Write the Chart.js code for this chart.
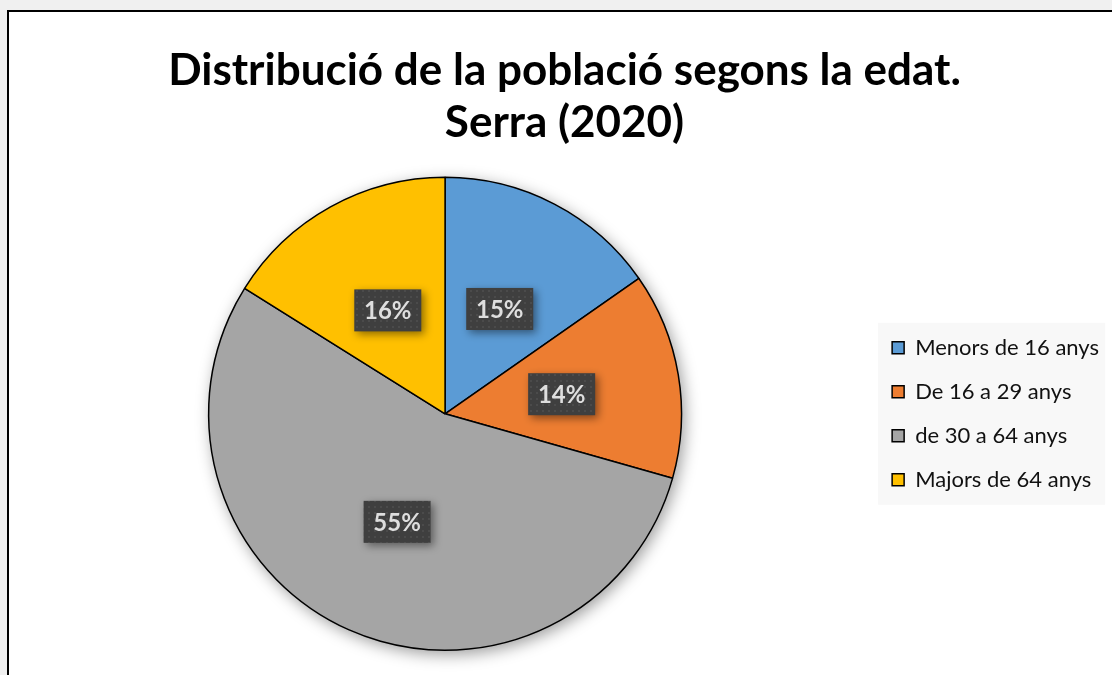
<!DOCTYPE html>
<html>
<head>
<meta charset="utf-8">
<script src="https://cdn.jsdelivr.net/npm/chart.js@4"></script>
<style>
  body { margin: 0; background: #f0f0f0; overflow: hidden; }
  #frame { position: absolute; left: 7px; top: 10px; width: 1200px; height: 800px;
           border-left: 2px solid #000; border-top: 2px solid #000; background: #fff; }
  #wrap { position: absolute; left: 0; top: 0; width: 1112px; height: 675px; }
</style>
</head>
<body>
<div id="frame"></div>
<div id="wrap"><canvas id="pie-chart"></canvas></div>
<script>
const labels = ['Menors de 16 anys', 'De 16 a 29 anys', 'de 30 a 64 anys', 'Majors de 64 anys'];
const values = [15.3, 14.1, 54.5, 16.1];
const pctLabels = ['15%', '14%', '55%', '16%'];
const colors = ['#5b9bd5', '#ed7d31', '#a5a5a5', '#ffc000'];

const fontFamily = 'Lato, "Open Sans", sans-serif';

// dotted dark fill for the value boxes
function makePattern(ctx) {
  const c = document.createElement('canvas');
  c.width = 6; c.height = 6;
  const p = c.getContext('2d');
  p.fillStyle = '#3f3f3f';
  p.fillRect(0, 0, 6, 6);
  p.fillStyle = '#4b4b4b';
  p.fillRect(2, 2, 2, 2);
  return ctx.createPattern(c, 'repeat');
}

const pieShadow = {
  id: 'pieShadow',
  beforeDatasetsDraw(chart) {
    const arc = chart.getDatasetMeta(0).data[0];
    if (!arc) return;
    const ctx = chart.ctx;
    ctx.save();
    ctx.shadowColor = 'rgba(0,0,0,0.4)';
    ctx.shadowBlur = 16;
    ctx.shadowOffsetX = 3;
    ctx.shadowOffsetY = 4;
    ctx.fillStyle = '#fff';
    ctx.beginPath();
    ctx.arc(arc.x, arc.y, arc.outerRadius, 0, Math.PI * 2);
    ctx.fill();
    ctx.restore();
  }
};

const legendBg = {
  id: 'legendBg',
  beforeDraw(chart) {
    const boxes = chart.legend.legendHitBoxes;
    if (!boxes || !boxes.length) return;
    const first = boxes[0], last = boxes[boxes.length - 1];
    const ctx = chart.ctx;
    ctx.save();
    ctx.fillStyle = '#f8f8f8';
    ctx.fillRect(first.left - 14, first.top - 14, 227, last.top + last.height - first.top + 28);
    ctx.restore();
  }
};

const valueBoxes = {
  id: 'valueBoxes',
  afterDatasetsDraw(chart) {
    const ctx = chart.ctx;
    const pattern = makePattern(ctx);
    chart.getDatasetMeta(0).data.forEach((arc, i) => {
      const pos = arc.tooltipPosition();
      const w = 67, h = 42;
      ctx.save();
      ctx.shadowColor = 'rgba(0,0,0,0.45)';
      ctx.shadowBlur = 8;
      ctx.shadowOffsetX = 3;
      ctx.shadowOffsetY = 3;
      ctx.fillStyle = pattern;
      ctx.fillRect(pos.x - w / 2, pos.y - h / 2, w, h);
      ctx.restore();
      ctx.save();
      ctx.fillStyle = '#dedede';
      ctx.font = 'bold 24px ' + fontFamily;
      ctx.textAlign = 'center';
      ctx.textBaseline = 'middle';
      ctx.fillText(pctLabels[i], pos.x, pos.y + 1);
      ctx.restore();
    });
  }
};

const chartPie = document.getElementById('pie-chart');
new Chart(chartPie, {
  type: 'pie',
  data: {
    labels: labels,
    datasets: [{
      data: values,
      backgroundColor: colors,
      borderColor: '#000',
      borderWidth: 1.5
    }]
  },
  options: {
    responsive: true,
    maintainAspectRatio: false,
    animation: false,
    layout: {
      padding: { left: 20, right: 3, top: 0, bottom: 24 }
    },
    plugins: {
      title: {
        display: true,
        text: ['Distribució de la població segons la edat.', 'Serra (2020)'],
        color: '#000',
        font: { family: fontFamily, size: 44, weight: 'bold', lineHeight: 1.2 },
        padding: { top: 44, bottom: 27 }
      },
      legend: {
        position: 'right',
        fullSize: false,
        labels: {
          color: '#111',
          font: { family: fontFamily, size: 22 },
          boxWidth: 12,
          boxHeight: 12,
          padding: 22
        }
      },
      tooltip: { enabled: false }
    }
  },
  plugins: [pieShadow, legendBg, valueBoxes]
});
</script>
</body>
</html>
